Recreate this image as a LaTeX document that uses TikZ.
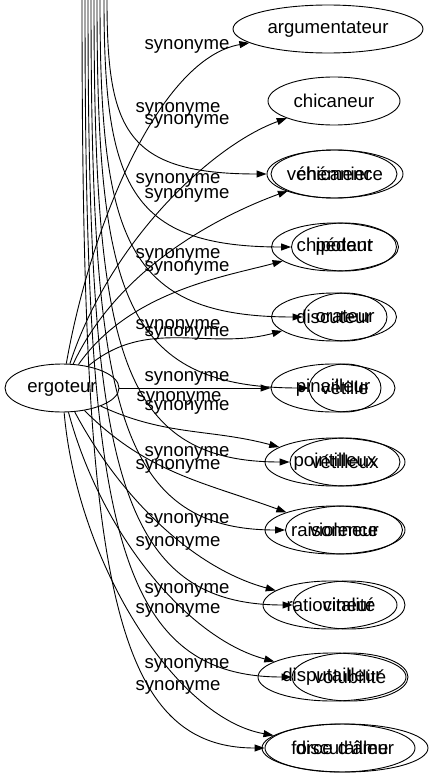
\documentclass[tikz,border=0pt]{standalone}
\usepackage{fontspec}
\setmainfont{Liberation Sans}
\usetikzlibrary{arrows.meta,shapes.geometric}

\begin{document}
\begin{tikzpicture}[
    x=1pt, y=-1pt,
    word/.style={draw, ellipse, inner sep=0pt, minimum height=48pt, line width=0.9pt, font=\fontsize{18.6}{20}\selectfont},
    lbl/.style={inner sep=0pt, font=\fontsize{18.6}{20}\selectfont},
    edge/.style={-{Triangle[length=10pt,width=7pt]}, line width=0.9pt},
]
\useasboundingbox (0,0) rectangle (429,779);

% centre
\node[word, minimum width=114pt] (erg) at (62,388) {ergoteur};

% right column
\node[word, minimum width=190pt] (arg) at (328,29) {argumentateur};
\node[word, minimum width=132pt] (chi) at (334,101) {chicaneur};
\node[word, minimum width=126pt] (chn) at (334,174) {chicanier};
\node[word, minimum width=124pt] (veh) at (335,174) {véhémence};
\node[word, minimum width=127pt] (chp) at (335,247) {chipoteur};
\node[word, minimum width=105pt] (chpB) at (344,247) {pédant};
\node[word, minimum width=125pt] (dsc) at (334,317) {discuteur};
\node[word, minimum width=84pt] (dscB) at (345,317) {orateur};
\node[word, minimum width=124pt] (pin) at (333,388) {pinailleur};
\node[word, minimum width=72pt] (pinB) at (345,388) {vétille};
\node[word, minimum width=140pt] (poi) at (335,462) {pointilleux};
\node[word, minimum width=110pt] (poiB) at (345,462) {vétilleux};
\node[word, minimum width=140pt] (rai) at (335,530) {raisonneur};
\node[word, minimum width=117pt] (raiB) at (344,530) {violence};
\node[word, minimum width=134pt] (rat) at (330,605) {ratiocineur};
\node[word, minimum width=112pt] (ratB) at (349,605) {vitalité};
\node[word, minimum width=148pt] (dsp) at (332,677) {disputailleur};
\node[word, minimum width=116pt] (dspB) at (350,677) {volubilité};
\node[word, minimum width=166pt] (frc) at (345,748) {discutailleur};
\node[word, minimum width=150pt] (frcB) at (340,748) {force d'âme};

% edges leaving the top of the picture
\coordinate (tV) at (107,0);
\coordinate (tC) at (104,0);
\coordinate (tD) at (100,0);
\coordinate (tP) at (97,0);
\coordinate (tO) at (94,0);
\coordinate (tR) at (91,0);
\coordinate (tT) at (88,0);
\coordinate (tS) at (85,0);
\coordinate (tF) at (82,0);

% from ergoteur
\draw[edge] (erg) to[out=80, in=190, in distance=90pt] (arg);
\draw[edge] (erg) to[out=72, in=200, in distance=80pt] (chi);
\draw[edge] (erg) to[out=65, in=200, in distance=70pt] (chn);
\draw[edge] (erg) to[out=55, in=195, in distance=60pt] (chp);
\draw[edge] (erg) to[out=40, in=195] (dsc);
\draw[edge] (erg) -- (pin);
\draw[edge] (erg) to[out=-25, in=165] (poi);
\draw[edge] (erg) to[out=-45, in=160] (rai);
\draw[edge] (erg) to[out=-62, in=165, in distance=80pt] (rat);
\draw[edge] (erg) to[out=-75, in=165, in distance=90pt] (dsp);
\draw[edge] (erg) to[out=-85, in=170, in distance=100pt] (frc);

% from above
\draw[edge] (tV) to[out=-90, in=180, out distance=130pt, in distance=141pt] (veh);
\draw[edge] (tC) to[out=-90, in=180, out distance=185pt, in distance=162pt] (chpB);
\draw[edge] (tD) to[out=-90, in=180, out distance=238pt, in distance=178pt] (dscB);
\draw[edge] (tP) to[out=-90, in=180, out distance=291pt, in distance=187pt] (pinB);
\draw[edge] (tO) to[out=-90, in=180, out distance=346pt, in distance=171pt] (poiB);
\draw[edge] (tR) to[out=-90, in=180, out distance=397pt, in distance=170pt] (raiB);
\draw[edge] (tT) to[out=-90, in=180, out distance=454pt, in distance=180pt] (ratB);
\draw[edge] (tS) to[out=-90, in=180, out distance=508pt, in distance=182pt] (dspB);
\draw[edge] (tF) to[out=-90, in=180, out distance=561pt, in distance=158pt] (frcB);

% labels
\node[lbl] (l1) at (187,46) {synonyme};
\node[lbl] (l2) at (178,109) {synonyme};
\node[lbl] (l3) at (187,121) {synonyme};
\node[lbl] (l4) at (178,180) {synonyme};
\node[lbl] (l5) at (187,195) {synonyme};
\node[lbl] (l6) at (178,255) {synonyme};
\node[lbl] (l7) at (187,268) {synonyme};
\node[lbl] (l8) at (178,326) {synonyme};
\node[lbl] (l9) at (187,333) {synonyme};
\node[lbl] (l10) at (187,378) {synonyme};
\node[lbl] (l11) at (179,398) {synonyme};
\node[lbl] (l12) at (187,407) {synonyme};
\node[lbl] (l13) at (187,453) {synonyme};
\node[lbl] (l14) at (178,466) {synonyme};
\node[lbl] (l15) at (187,520) {synonyme};
\node[lbl] (l16) at (178,543) {synonyme};
\node[lbl] (l17) at (187,590) {synonyme};
\node[lbl] (l18) at (178,610) {synonyme};
\node[lbl] (l19) at (187,665) {synonyme};
\node[lbl] (l20) at (178,687) {synonyme};

\end{tikzpicture}
\end{document}
